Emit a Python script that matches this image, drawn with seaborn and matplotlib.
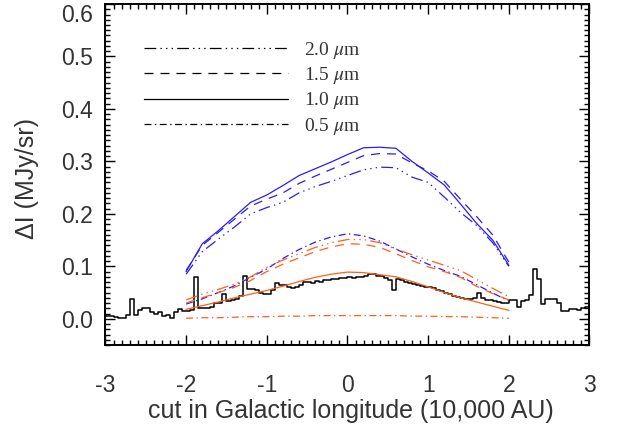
import numpy as np
import matplotlib
matplotlib.use('Agg')
import matplotlib.pyplot as plt
from matplotlib.lines import Line2D
from matplotlib.ticker import MultipleLocator
import seaborn as sns

plt.rcParams['font.family'] = ['Liberation Sans', 'DejaVu Sans']
plt.rcParams['mathtext.fontset'] = 'stix'
plt.rcParams['lines.scale_dashes'] = False

# --- observed profile (step histogram, bin width 0.05) ---
bin_left = np.round(np.arange(-3.0, 3.0, 0.05), 2)
obs_dI = [
    0.005, 0.005, 0.003, 0.002, 0.002, 0.008, 0.037, 0.007, 0.016, 0.020,
    0.020, 0.013, 0.009, 0.012, 0.006, 0.008, 0.002, 0.012, 0.018, 0.015,
    0.015, 0.016, 0.080, 0.020, 0.021, 0.021, 0.022, 0.030, 0.030, 0.047,
    0.033, 0.036, 0.038, 0.043, 0.081, 0.057, 0.056, 0.055, 0.050, 0.048,
    0.047, 0.055, 0.068, 0.065, 0.064, 0.060, 0.058, 0.060, 0.065, 0.070,
    0.071, 0.069, 0.072, 0.071, 0.074, 0.073, 0.076, 0.075, 0.078, 0.077,
    0.079, 0.077, 0.080, 0.079, 0.081, 0.086, 0.085, 0.082, 0.081, 0.078,
    0.074, 0.055, 0.076, 0.074, 0.071, 0.069, 0.067, 0.065, 0.062, 0.060,
    0.060, 0.058, 0.055, 0.052, 0.050, 0.047, 0.044, 0.041, 0.039, 0.037,
    0.038, 0.040, 0.050, 0.040, 0.035, 0.036, 0.033, 0.032, 0.031, 0.031,
    0.035, 0.035, 0.022, 0.034, 0.035, 0.045, 0.095, 0.075, 0.029, 0.037,
    0.037, 0.038, 0.031, 0.014, 0.015, 0.018, 0.018, 0.017, 0.020, 0.022,
]

# --- model profiles ---
x_model = np.round(np.arange(-2.0, 2.01, 0.2), 1)

# blue models
blue_10 = [0.090, 0.143, 0.168, 0.195, 0.222, 0.236, 0.254, 0.273, 0.286, 0.299, 0.313,
           0.326, 0.327, 0.325, 0.300, 0.278, 0.255, 0.219, 0.182, 0.150, 0.102]
blue_15 = [0.092, 0.140, 0.165, 0.190, 0.215, 0.228, 0.240, 0.258, 0.272, 0.285, 0.298,
           0.311, 0.315, 0.314, 0.297, 0.282, 0.262, 0.228, 0.195, 0.160, 0.108]
blue_20 = [0.085, 0.128, 0.152, 0.175, 0.200, 0.212, 0.222, 0.240, 0.252, 0.262, 0.273,
           0.284, 0.289, 0.288, 0.270, 0.260, 0.232, 0.203, 0.178, 0.145, 0.100]
blue_05 = [0.028, 0.038, 0.050, 0.063, 0.079, 0.095, 0.115, 0.132, 0.146, 0.156, 0.162,
           0.158, 0.148, 0.133, 0.118, 0.104, 0.092, 0.081, 0.065, 0.049, 0.034]

# orange models
orng_20 = [0.036, 0.047, 0.056, 0.066, 0.080, 0.098, 0.112, 0.124, 0.136, 0.145, 0.151,
           0.151, 0.145, 0.133, 0.122, 0.112, 0.102, 0.092, 0.075, 0.058, 0.042]
orng_15 = [0.030, 0.040, 0.050, 0.060, 0.073, 0.090, 0.104, 0.116, 0.128, 0.137, 0.143,
           0.142, 0.136, 0.124, 0.111, 0.099, 0.090, 0.079, 0.062, 0.048, 0.036]
orng_10 = [0.018, 0.025, 0.032, 0.040, 0.047, 0.054, 0.062, 0.071, 0.079, 0.085, 0.089,
           0.088, 0.084, 0.080, 0.071, 0.061, 0.050, 0.040, 0.032, 0.024, 0.016]
orng_05 = [0.001, 0.002, 0.002, 0.003, 0.004, 0.004, 0.005, 0.005, 0.006, 0.006, 0.006,
           0.006, 0.006, 0.006, 0.005, 0.005, 0.004, 0.004, 0.003, 0.002, 0.001]

x_ticks = [-3, -2, -1, 0, 1, 2, 3]
x_ticklabels = ['-3', '-2', '-1', '0', '1', '2', '3']
y_ticks = [0.0, 0.1, 0.2, 0.3, 0.4, 0.5, 0.6]
y_ticklabels = ['0.0', '0.1', '0.2', '0.3', '0.4', '0.5', '0.6']
leg_labels = ['2.0 $\\mu$m', '1.5 $\\mu$m', '1.0 $\\mu$m', '0.5 $\\mu$m']

# line styles (IDL-like)
ls_20 = (0, (8.5, 3.0, 1.0, 3.0, 1.0, 3.0, 1.0, 3.0))
ls_15 = (0, (6.5, 5.0))
ls_10 = '-'
ls_05 = (0, (5.0, 2.5, 1.0, 2.5))

BLUE = '#2a1ef2'
ORNG = '#ff5f1a'
TXT = '#333333'

fig = plt.figure(figsize=(6.19, 4.32), dpi=100)
ax = fig.add_axes([0.1704, 0.2014, 0.7819, 0.7893])

# histogram
edges = np.append(bin_left, 3.0)
sns.lineplot(x=edges, y=np.append(obs_dI, obs_dI[-1]), ax=ax, color='black',
             lw=1.1, drawstyle='steps-post')

for vals, ls in [(blue_20, ls_20), (blue_15, ls_15), (blue_10, ls_10), (blue_05, ls_05)]:
    sns.lineplot(x=x_model, y=vals, ax=ax, color=BLUE, lw=0.9, linestyle=ls)
for vals, ls in [(orng_20, ls_20), (orng_15, ls_15), (orng_10, ls_10), (orng_05, ls_05)]:
    sns.lineplot(x=x_model, y=vals, ax=ax, color=ORNG, lw=0.9, linestyle=ls)

ax.set_xlim(-3, 3)
ax.set_ylim(-0.05, 0.6)
ax.set_xticks(x_ticks, labels=x_ticklabels)
ax.set_yticks(y_ticks, labels=y_ticklabels)
ax.xaxis.set_minor_locator(MultipleLocator(0.1))
ax.yaxis.set_minor_locator(MultipleLocator(0.01))
ax.tick_params(which='both', direction='in', top=True, right=True, width=1.0, color='black')
ax.tick_params(which='major', length=7.5)
ax.tick_params(which='minor', length=3.8)
ax.tick_params(axis='x', labelsize=16.5, pad=21, labelcolor=TXT)
ax.tick_params(axis='y', labelsize=16.5, pad=9, labelcolor=TXT)
ax.get_yticklabels()[-1].set_va('top')
for sp in ax.spines.values():
    sp.set_linewidth(1.4)

ax.set_xlabel('cut in Galactic longitude (10,000 AU)', fontsize=18, color=TXT)
ax.set_ylabel('ΔI (MJy/sr)', fontsize=18, color=TXT)
ax.xaxis.set_label_coords(0.507, -0.158)
ax.yaxis.set_label_coords(-0.138, 0.487)

handles = [Line2D([], [], color='black', lw=0.9, linestyle=ls) for ls in [ls_20, ls_15, ls_10, ls_05]]
leg = ax.legend(handles, leg_labels, loc='upper left', bbox_to_anchor=(0.08, 0.895),
                frameon=False, borderpad=0, borderaxespad=0, handlelength=7.4,
                handletextpad=0.8, labelspacing=0.22,
                prop={'family': 'Liberation Serif', 'size': 14})
for t in leg.get_texts():
    t.set_color(TXT)

fig.savefig('out.png', dpi=100)
